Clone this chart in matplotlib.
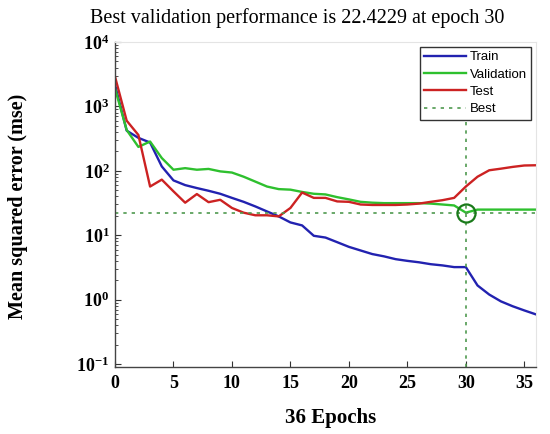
import matplotlib
matplotlib.use("Agg")
import matplotlib.pyplot as plt
from matplotlib.ticker import LogLocator, FixedLocator
import numpy as np

epochs = list(range(37))

train = [2150, 420, 325, 275, 117, 71, 60, 54, 49, 44, 38,
         33, 28, 23.4, 19.6, 15.8, 14.2, 9.8, 9.2, 7.8, 6.6,
         5.8, 5.1, 4.7, 4.25, 4.0, 3.8, 3.55, 3.4, 3.2, 3.2,
         1.66, 1.2, 0.94, 0.79, 0.68, 0.59]

validation = [1900, 430, 235, 285, 158, 104, 110, 104, 107, 98, 94,
              81, 68, 57, 52, 51, 47, 44, 43, 39, 36,
              33, 32, 31.5, 31.5, 31.5, 31.5, 31, 30, 29, 22.4229,
              25, 25, 25, 25, 25, 25]

test = [2900, 600, 360, 57, 73, 48, 32, 43.6, 32.6, 35.5, 26.5,
        22.4, 20.4, 20.4, 19.6, 26.5, 46, 38, 38, 33.5, 33,
        30, 29.5, 29.5, 29.5, 30, 31, 33, 35, 38, 57,
        81, 102, 108, 115, 121, 122]

best_epoch = 30
best_value = 22.4229

x_ticks = [0, 5, 10, 15, 20, 25, 30, 35]
y_ticks = [1e-1, 1e0, 1e1, 1e2, 1e3, 1e4]
y_tick_labels = [r"$\mathbf{10^{-1}}$", r"$\mathbf{10^{0}}$", r"$\mathbf{10^{1}}$",
                 r"$\mathbf{10^{2}}$", r"$\mathbf{10^{3}}$", r"$\mathbf{10^{4}}$"]

plt.rcParams["mathtext.fontset"] = "custom"
plt.rcParams["mathtext.rm"] = "Liberation Serif"
plt.rcParams["mathtext.bf"] = "Liberation Serif:bold"

W, H = 550, 434
fig = plt.figure(figsize=(W / 100, H / 100), dpi=100)
ax = fig.add_axes([115 / W, 1 - 367 / H, (536 - 115) / W, (367 - 42) / H])

ax.plot(epochs, train, color="#2222b0", lw=1.7, label="Train")
ax.plot(epochs, validation, color="#2ec02e", lw=1.7, label="Validation")
ax.plot(epochs, test, color="#cc2222", lw=1.7, label="Test")

best_color = "#4f9a4f"
ax.axhline(best_value, color=best_color, ls=(0, (2, 3)), lw=1.2, label="Best")
ax.axvline(best_epoch, color=best_color, ls=(0, (2, 3)), lw=1.2)
ax.plot([best_epoch], [best_value], marker="o", markersize=13, markerfacecolor="none",
        markeredgecolor="#1a7a1a", markeredgewidth=1.6, ls="none")

ax.set_yscale("log")
ax.set_xlim(0, 36)
ax.set_ylim(0.09, 1e4)

ax.xaxis.set_major_locator(FixedLocator(x_ticks))
ax.set_xticklabels([str(t) for t in x_ticks], fontfamily="Liberation Serif",
                   fontweight="bold", fontsize=13)
ax.yaxis.set_major_locator(FixedLocator(y_ticks))
ax.set_yticklabels(y_tick_labels, fontsize=13)
ax.yaxis.set_minor_locator(LogLocator(base=10, subs=np.arange(2, 10), numticks=20))
ax.yaxis.set_minor_formatter(plt.NullFormatter())

ax.tick_params(axis="both", which="both", direction="in", color="#333333")
ax.tick_params(axis="both", which="major", length=4)
ax.tick_params(axis="x", which="major", pad=6)
ax.tick_params(axis="y", which="major", pad=4)
ax.tick_params(axis="y", which="minor", length=2)
ax.tick_params(axis="x", which="minor", length=0)

for side in ("top", "right"):
    ax.spines[side].set_color("#e4e4e4")
for side in ("left", "bottom"):
    ax.spines[side].set_color("#444444")
    ax.spines[side].set_linewidth(1.0)

fig.text(331 / W, 1 - 418 / H, "36 Epochs", ha="center", va="center",
         fontfamily="Liberation Serif", fontweight="bold", fontsize=15)
fig.text(18 / W, 1 - 206 / H, "Mean squared error (mse)", ha="center", va="center",
         rotation=90, fontfamily="Liberation Serif", fontweight="bold", fontsize=14.5)
fig.text(297 / W, 1 - 18 / H, "Best validation performance is 22.4229 at epoch 30",
         ha="center", va="center", fontfamily="Liberation Serif", fontsize=14.5)

leg = ax.legend(loc="upper right", prop={"family": "Liberation Sans", "size": 9.5},
                fancybox=False, framealpha=1, edgecolor="#333333",
                borderpad=0.35, labelspacing=0.38, handlelength=3.2,
                handletextpad=0.25, borderaxespad=0.35)
leg.get_frame().set_linewidth(1.0)

fig.savefig("out.png", dpi=100)
